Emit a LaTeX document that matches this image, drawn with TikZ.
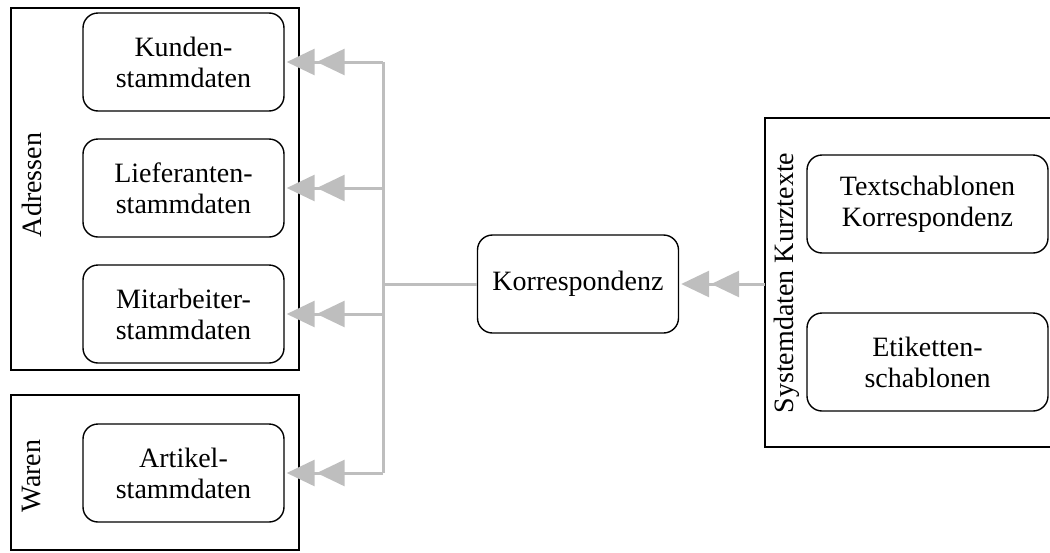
\documentclass[tikz,border=0pt]{standalone}
\usepackage{fontspec}
\setmainfont{Liberation Serif}
\usetikzlibrary{arrows.meta, positioning, calc}
\definecolor{linkGray}{HTML}{BEBEBE}

\begin{document}
\begin{tikzpicture}[x=0.5pt, y=-0.5pt,
    every node/.style={font=\fontsize{14}{15.5}\selectfont},
    entity/.style={draw, rounded corners=7.5pt, minimum width=100.5pt, minimum height=49pt, align=center, line width=0.7pt},
    wide/.style={entity, minimum width=120.5pt},
    group/.style={draw, line width=0.7pt},
    link/.style={draw=linkGray, line width=1.5pt},
    tip/.style={link, -{Triangle[length=14pt,width=13pt,sep=1pt]Triangle[length=14pt,width=13pt,sep=1pt]}}]
    \useasboundingbox (0,0) rectangle (1050,552);
    % groups
    \draw[group] (11,8) rectangle (299,370);
    \draw[group] (11,395) rectangle (299,550);
    \draw[group] (765,118) coordinate (sysframe) rectangle (1060,447);
    \node[rotate=90] (adressen) at (32,185) {Adressen};
    \node[rotate=90] (waren) at (32,476) {Waren};
    \node[rotate=90] (sysdaten) at (787,283) {Systemdaten Kurztexte};
    % entities
    \node[entity] (kunden) at (183.5,62) {Kunden-\\stammdaten};
    \node[entity] (lieferanten) at (183.5,188) {Lieferanten-\\stammdaten};
    \node[entity] (mitarbeiter) at (183.5,314) {Mitarbeiter-\\stammdaten};
    \node[entity] (artikel) at (183.5,473) {Artikel-\\stammdaten};
    \node[entity] (korr) at (578,284) {Korrespondenz};
    \node[wide] (textschab) at (927.5,204) {Textschablonen\\Korrespondenz};
    \node[wide] (etiketten) at (927.5,362) {Etiketten-\\schablonen};
    % connectors
    \coordinate (bus) at (383,284);
    \draw[link] (korr.west) -- (bus);
    \draw[link] (bus |- kunden) -- (bus |- artikel);
    \foreach \n in {kunden, lieferanten, mitarbeiter, artikel}
      \draw[tip] (bus |- \n) -- (\n.east);
    \draw[tip] (sysframe |- korr) -- (korr.east);
\end{tikzpicture}
\end{document}
